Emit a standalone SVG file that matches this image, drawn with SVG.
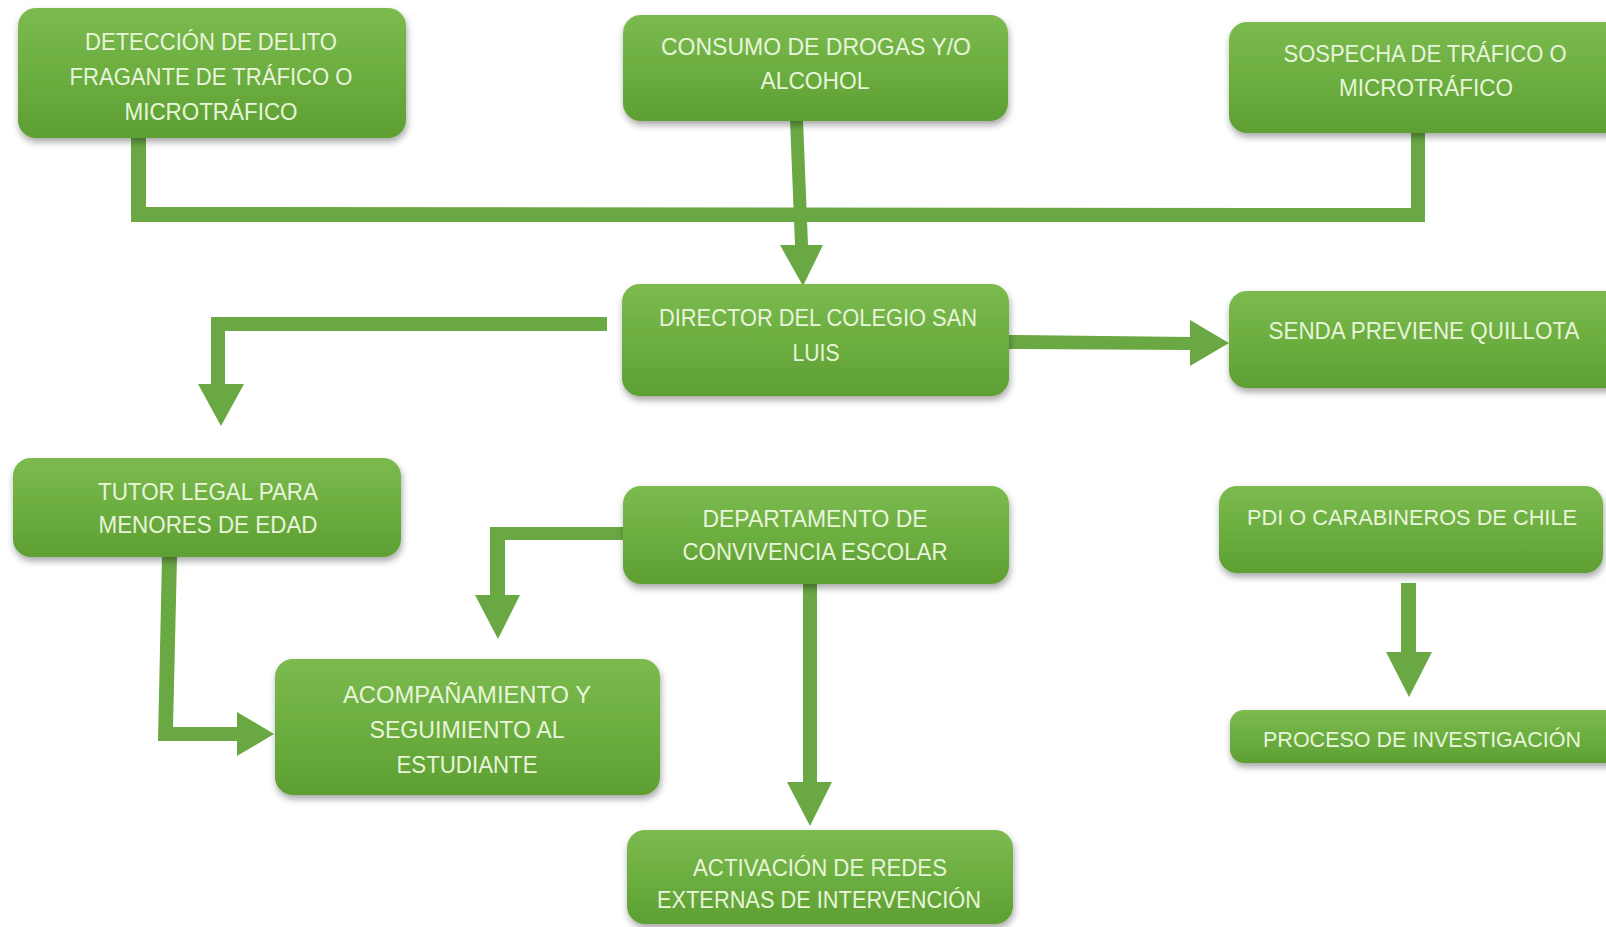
<svg xmlns="http://www.w3.org/2000/svg" width="1606" height="927" viewBox="0 0 1606 927">
<defs>
<linearGradient id="g" x1="0" y1="0" x2="0" y2="1">
<stop offset="0" stop-color="#7cba4f"/>
<stop offset="0.5" stop-color="#6cae40"/>
<stop offset="1" stop-color="#5e9f33"/>
</linearGradient>
<filter id="sh" x="-10%" y="-20%" width="120%" height="150%">
<feDropShadow dx="1" dy="4" stdDeviation="3.5" flood-color="#000" flood-opacity="0.35"/>
</filter>
<style>
.box{fill:url(#g);filter:url(#sh);}
.t{font-family:"Liberation Sans",Arial,sans-serif;font-size:24px;fill:#e8f5da;text-anchor:middle;}
.s{font-size:22px;}
.c{fill:#6aa843;}
</style>
</defs>
<rect width="1606" height="927" fill="#ffffff"/>

<g id="connectors">
<polygon class="c" points="131,130 146,130 146,207 1411,208 1411,130 1425,130 1425,222 131,222"/>
<polygon class="c" points="790,120 803,120 808,245 823,245 803,286 780,245 795,245"/>
<polygon class="c" points="607,317 607,331 225,331 225,384 244,384 221,426 198,384 211,384 211,317"/>
<polygon class="c" points="1009,335 1190,337 1190,320 1229,343 1190,366 1190,350 1009,349"/>
<polygon class="c" points="162,557 177,557 173,727 237,727 237,712 274,734 237,756 237,741 158,741"/>
<polygon class="c" points="624,527 624,540 505,540 505,595 520,595 498,639 475,595 490,595 490,527"/>
<polygon class="c" points="803,584 817,584 817,782 832,782 810,826 787,782 803,782"/>
<polygon class="c" points="1401,583 1416,583 1416,652 1432,652 1409,697 1386,652 1401,652"/>
</g>

<g id="n1">
<rect class="box" x="18" y="8" width="388" height="130" rx="18"/>
<text class="t" x="211" y="50" textLength="252" lengthAdjust="spacingAndGlyphs">DETECCIÓN DE DELITO</text>
<text class="t" x="211" y="85" textLength="283" lengthAdjust="spacingAndGlyphs">FRAGANTE DE TRÁFICO O</text>
<text class="t" x="211" y="120" textLength="173" lengthAdjust="spacingAndGlyphs">MICROTRÁFICO</text>
</g>
<g id="n2">
<rect class="box" x="623" y="15" width="385" height="106" rx="18"/>
<text class="t" x="816" y="55" textLength="310" lengthAdjust="spacingAndGlyphs">CONSUMO DE DROGAS Y/O</text>
<text class="t" x="815" y="89" textLength="109" lengthAdjust="spacingAndGlyphs">ALCOHOL</text>
</g>
<g id="n3">
<rect class="box" x="1229" y="22" width="395" height="111" rx="18"/>
<text class="t" x="1425" y="62" textLength="283" lengthAdjust="spacingAndGlyphs">SOSPECHA DE TRÁFICO O</text>
<text class="t" x="1426" y="96" textLength="174" lengthAdjust="spacingAndGlyphs">MICROTRÁFICO</text>
</g>
<g id="n4">
<rect class="box" x="622" y="284" width="387" height="112" rx="18"/>
<text class="t" x="818" y="326" textLength="318" lengthAdjust="spacingAndGlyphs">DIRECTOR DEL COLEGIO SAN</text>
<text class="t" x="816" y="361" textLength="47" lengthAdjust="spacingAndGlyphs">LUIS</text>
</g>
<g id="n5">
<rect class="box" x="1229" y="291" width="395" height="97" rx="18"/>
<text class="t" x="1424" y="339" textLength="311" lengthAdjust="spacingAndGlyphs">SENDA PREVIENE QUILLOTA</text>
</g>
<g id="n6">
<rect class="box" x="13" y="458" width="388" height="99" rx="18"/>
<text class="t" x="208" y="500" textLength="220" lengthAdjust="spacingAndGlyphs">TUTOR LEGAL PARA</text>
<text class="t" x="208" y="533" textLength="219" lengthAdjust="spacingAndGlyphs">MENORES DE EDAD</text>
</g>
<g id="n7">
<rect class="box" x="623" y="486" width="386" height="98" rx="18"/>
<text class="t" x="815" y="527" textLength="225" lengthAdjust="spacingAndGlyphs">DEPARTAMENTO DE</text>
<text class="t" x="815" y="560" textLength="265" lengthAdjust="spacingAndGlyphs">CONVIVENCIA ESCOLAR</text>
</g>
<g id="n8">
<rect class="box" x="275" y="659" width="385" height="136" rx="18"/>
<text class="t" x="467" y="703" textLength="248" lengthAdjust="spacingAndGlyphs">ACOMPAÑAMIENTO Y</text>
<text class="t" x="467" y="738" textLength="195" lengthAdjust="spacingAndGlyphs">SEGUIMIENTO AL</text>
<text class="t" x="467" y="773" textLength="141" lengthAdjust="spacingAndGlyphs">ESTUDIANTE</text>
</g>
<g id="n9">
<rect class="box" x="627" y="830" width="386" height="94" rx="18"/>
<text class="t" x="820" y="876" textLength="254" lengthAdjust="spacingAndGlyphs">ACTIVACIÓN DE REDES</text>
<text class="t" x="819" y="908" textLength="324" lengthAdjust="spacingAndGlyphs">EXTERNAS DE INTERVENCIÓN</text>
</g>
<g id="n10">
<rect class="box" x="1219" y="486" width="384" height="87" rx="18"/>
<text class="t s" x="1412" y="525" textLength="330" lengthAdjust="spacingAndGlyphs">PDI O CARABINEROS DE CHILE</text>
</g>
<g id="n11">
<rect class="box" x="1230" y="710" width="394" height="53" rx="14"/>
<text class="t s" x="1422" y="747" textLength="318" lengthAdjust="spacingAndGlyphs">PROCESO DE INVESTIGACIÓN</text>
</g>
</svg>
